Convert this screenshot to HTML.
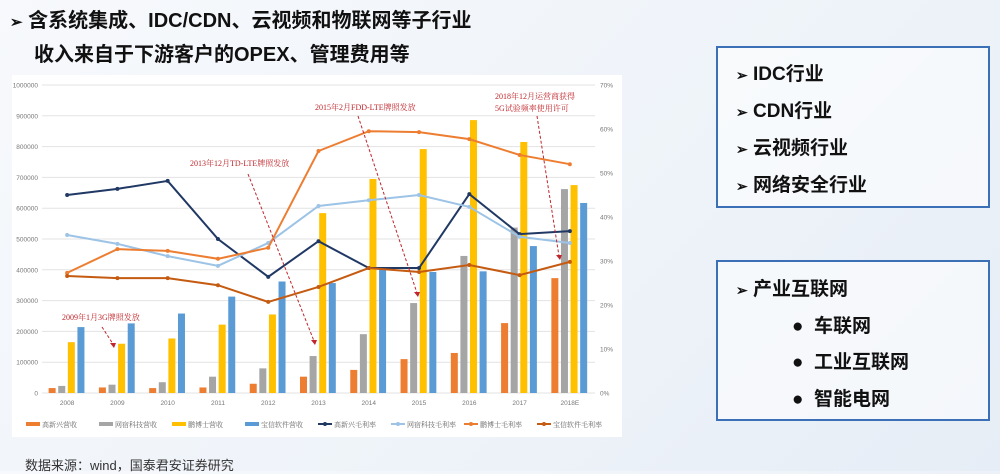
<!DOCTYPE html>
<html><head><meta charset="utf-8">
<style>
body{margin:0;width:1000px;height:471px;overflow:hidden;background:linear-gradient(135deg,#f7f9fc 0%,#eef3f9 60%,#e6edf6 100%);font-family:"Liberation Sans","Noto Sans CJK SC",sans-serif;position:relative}
.h{position:absolute;font-weight:bold;font-size:20px;color:#111;white-space:nowrap}
.box{position:absolute;left:716px;width:270px;border:2px solid #3b6fb6;background:rgba(255,255,255,0.55)}
.it{position:absolute;font-weight:bold;font-size:19px;color:#111;white-space:nowrap}
</style></head><body>
<div class="h" style="left:10px;top:4px"><span style="font-size:15px">➢</span> 含系统集成、IDC/CDN、云视频和物联网等子行业</div>
<div class="h" style="left:34px;top:38px">收入来自于下游客户的OPEX、管理费用等</div>

<svg style="position:absolute;left:0;top:0" width="1000" height="471">
<rect x="12" y="75" width="610" height="362" fill="#fff"/>
<g id="grid"></g><g id="bars"></g><g id="lines"></g><g id="labels"></g>
<g font-size="8" fill="#c0262c" font-family="Liberation Serif,Noto Serif CJK SC,serif">
<text x="62" y="320">2009年1月3G牌照发放</text>
<text x="190" y="166">2013年12月TD-LTE牌照发放</text>
<text x="315" y="110">2015年2月FDD-LTE牌照发放</text>
<text x="495" y="99">2018年12月运营商获得</text>
<text x="495" y="111">5G试验频率使用许可</text>
</g>
<g stroke="#c0262c" stroke-width="1" stroke-dasharray="3,2" fill="none">
<line x1="102" y1="327" x2="113" y2="344"/><line x1="248" y1="174" x2="314" y2="341"/>
<line x1="358" y1="116" x2="417" y2="293"/><line x1="537" y1="116" x2="559" y2="256"/>
</g>
<g fill="#c0262c"><path d="M110 343l6 0-2 5z"/><path d="M311 340l6 0-2 5z"/><path d="M414 292l6 0-2 5z"/><path d="M556 255l6 0-2 5z"/></g>
<g id="legend"></g>
</svg>
<div style="position:absolute;left:25px;top:455px;font-size:13px;color:#333">数据来源：wind，国泰君安证券研究</div>

<div class="box" style="top:46px;height:158px">
<div class="it" style="left:18px;top:11px"><span style="font-size:14px">➢</span> IDC行业</div>
<div class="it" style="left:18px;top:48px"><span style="font-size:14px">➢</span> CDN行业</div>
<div class="it" style="left:18px;top:85px"><span style="font-size:14px">➢</span> 云视频行业</div>
<div class="it" style="left:18px;top:122px"><span style="font-size:14px">➢</span> 网络安全行业</div>
</div>
<div class="box" style="top:260px;height:157px">
<div class="it" style="left:18px;top:12px"><span style="font-size:14px">➢</span> 产业互联网</div>
<div class="it" style="left:74px;top:49px">● &nbsp;车联网</div>
<div class="it" style="left:74px;top:85px">● &nbsp;工业互联网</div>
<div class="it" style="left:74px;top:122px">● &nbsp;智能电网</div>
</div>

<script>
const categories=["2008","2009","2010","2011","2012","2013","2014","2015","2016","2017","2018E"];
const revGxx=[16000,18000,16000,18000,30000,53000,75000,110000,130000,227000,373000];
const revWs=[23000,27000,35000,53000,80000,120000,191000,292000,445000,537000,662000];
const revPbs=[165000,160000,177000,222000,255000,584000,695000,792000,886000,815000,675000];
const revBx=[214000,226000,258000,313000,362000,357000,406000,393000,395000,477000,617000];
const mGxx=[45,46.4,48.2,35,26.4,34.5,28.4,28.4,45.2,36.1,36.8];
const mWs=[35.9,33.9,31.1,28.9,34.1,42.5,43.8,45,42.3,35.5,34.1];
const mPbs=[27.3,32.7,32.3,30.5,33,55,59.5,59.3,57.7,54.1,52];
const mBx=[26.6,26.1,26.1,24.5,20.7,24.1,28.4,27.5,29.1,26.8,29.8];
const leftTicks=[0,100000,200000,300000,400000,500000,600000,700000,800000,900000,1000000];
const rightTicks=[0,10,20,30,40,50,60,70];
const NS="http://www.w3.org/2000/svg";
const X0=42,X1=595,YB=393,YT=85;
const step=(X1-X0)/categories.length;
const xc=i=>X0+step*(i+0.5);
const yL=v=>YB-(v/1000000)*(YB-YT);
const yR=v=>YB-(v/70)*(YB-YT);
function mk(t,p,a){const e=document.createElementNS(NS,t);for(const k in a)e.setAttribute(k,a[k]);p.appendChild(e);return e;}
const g=document.getElementById('grid'),lb=document.getElementById('labels');
leftTicks.forEach(v=>{const l=mk('line',g,{x1:X0,x2:X1,y1:yL(v),y2:yL(v),stroke:'#e3e3e3','stroke-width':1});


const t=mk('text',lb,{x:38,y:yL(v)+2.5,'font-size':6.5,fill:'#777','text-anchor':'end'});t.textContent=v;

});
rightTicks.forEach(v=>{const t=mk('text',lb,{x:600,y:yR(v)+2.5,'font-size':6.5,fill:'#777'});t.textContent=v+'%';

});
categories.forEach((c,i)=>{const t=mk('text',lb,{x:xc(i),y:405,'font-size':6.5,fill:'#777','text-anchor':'middle'});t.textContent=c;

});
const bg=document.getElementById('bars');
const barSeries=[[revGxx,'#ed7d31'],[revWs,'#a5a5a5'],[revPbs,'#ffc000'],[revBx,'#5b9bd5']];
barSeries.forEach(([arr,col],s)=>arr.forEach((v,i)=>{const x=xc(i)-18.5+s*9.6;
const r=mk('rect',bg,{x:x,y:yL(v),width:7,height:YB-yL(v),fill:col});

}));
const lg=document.getElementById('lines');
const lineSeries=[[mGxx,'#203864'],[mWs,'#9dc3e6'],[mPbs,'#ed7d31'],[mBx,'#c55a11']];
lineSeries.forEach(([arr,col])=>{const p=mk('polyline',lg,{points:arr.map((v,i)=>xc(i)+','+yR(v)).join(' '),fill:'none',stroke:col,'stroke-width':2});


arr.forEach((v,i)=>{const c=mk('circle',lg,{cx:xc(i),cy:yR(v),r:2,fill:col});

});});
const legendNames=["高新兴营收","网宿科技营收","鹏博士营收","宝信软件营收","高新兴毛利率","网宿科技毛利率","鹏博士毛利率","宝信软件毛利率"];
const legendCols=['#ed7d31','#a5a5a5','#ffc000','#5b9bd5','#203864','#9dc3e6','#ed7d31','#c55a11'];
const L=document.getElementById('legend');
legendNames.forEach((n,i)=>{const x=26+i*73;
const it=mk('g',L,{});


if(i<4)mk('rect',it,{x:x,y:422,width:14,height:4,fill:legendCols[i]});
else{mk('line',it,{x1:x,x2:x+14,y1:424,y2:424,stroke:legendCols[i],'stroke-width':2});mk('circle',it,{cx:x+7,cy:424,r:2,fill:legendCols[i]});}
const t=mk('text',it,{x:x+16,y:427,'font-size':7,fill:'#666','font-family':'Liberation Serif,Noto Serif CJK SC,serif'});t.textContent=n;});
</script>
</body></html>
